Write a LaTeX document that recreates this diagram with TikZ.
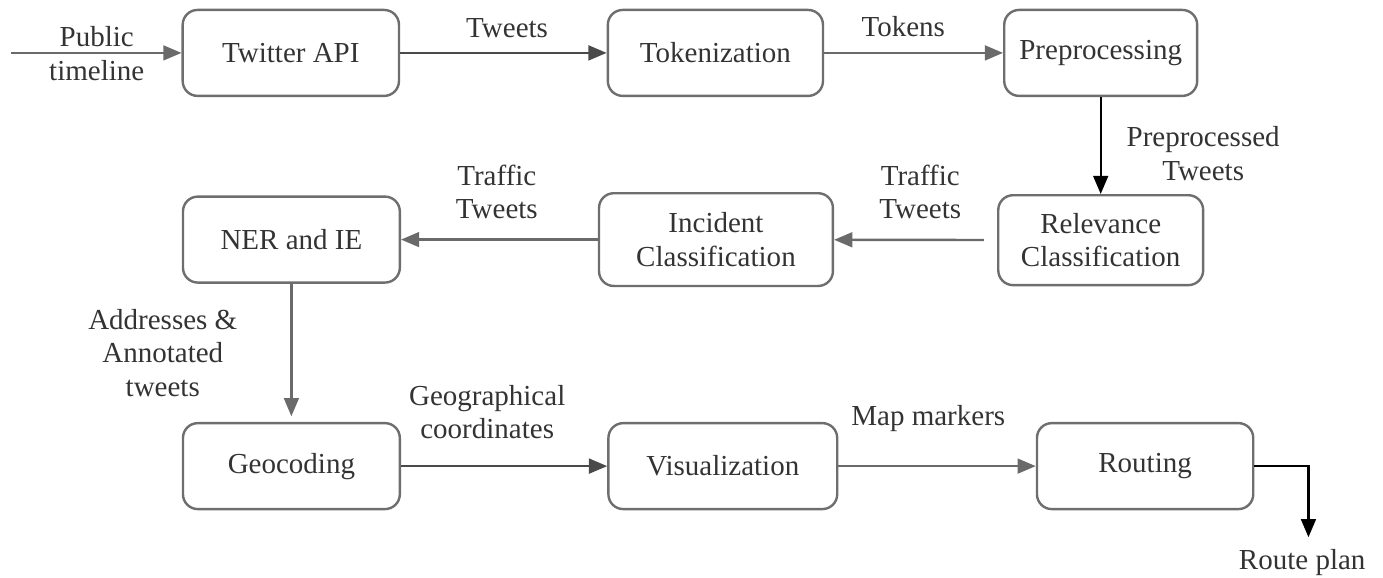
\documentclass[tikz,border=0pt]{standalone}
\usepackage{fontspec}
\setmainfont{Liberation Serif}
\newfontfamily\diagfont{Liberation Serif}
\usetikzlibrary{positioning, arrows.meta}
\definecolor{boxgray}{HTML}{6E6E6E}
\definecolor{linegray}{HTML}{6A6A6A}
\definecolor{darkline}{HTML}{4A4A4A}
\definecolor{textgray}{HTML}{333333}

\begin{document}
\begin{tikzpicture}[
    font=\diagfont\fontsize{14.5}{16.8}\selectfont,
    box/.style={draw=boxgray, line width=1.2pt, rounded corners=0.26cm,
                minimum height=1.51cm, align=center, text=textgray},
    lbl/.style={align=center, text=textgray, inner sep=0pt},
    arrow/.style={-{Triangle[length=3.2mm, width=2.6mm]}, line width=1.2pt, draw=linegray},
    darkarrow/.style={arrow, draw=darkline},
    blackarrow/.style={arrow, draw=black}
]
\useasboundingbox (0,0) rectangle (24.30,10.14);

% top row
\node[box, minimum width=3.80cm] (twitter) at (5.11,9.21)  {Twitter API};
\node[box, minimum width=3.78cm] (token)   at (12.57,9.21) {Tokenization};
\node[box, minimum width=3.39cm] (prep)    at (19.34,9.21) {Preprocessing};

% middle row
\node[box, minimum width=3.60cm, minimum height=1.58cm] (relev) at (19.34,5.92) {Relevance\\Classification};
\node[box, minimum width=4.11cm, minimum height=1.63cm] (incid) at (12.58,5.93) {Incident\\Classification};
\node[box, minimum width=3.81cm] (ner) at (5.12,5.93) {NER and IE};

% bottom row
\node[box, minimum width=3.81cm] (geo)    at (5.12,1.95)  {Geocoding};
\node[box, minimum width=4.02cm] (visual) at (12.70,1.95) {Visualization};
\node[box, minimum width=3.80cm] (route)  at (20.12,1.95) {Routing};

\coordinate (start) at (0.19,9.21);
\coordinate (plan)  at (22.99,0.70);

% labels
\node[lbl] (l-public) at (1.70,9.20)  {Public\\timeline};
\node[lbl] (l-tweets) at (8.91,9.65)  {Tweets};
\node[lbl] (l-tokens) at (15.87,9.67) {Tokens};
\node[lbl] (l-prep)   at (21.14,7.44) {Preprocessed\\Tweets};
\node[lbl] (l-traf1)  at (16.17,6.77) {Traffic\\Tweets};
\node[lbl] (l-traf2)  at (8.73,6.77)  {Traffic\\Tweets};
\node[lbl] (l-addr)   at (2.86,3.94)  {Addresses \&\\Annotated\\tweets};
\node[lbl] (l-geo)    at (8.56,2.90)  {Geographical\\coordinates};
\node[lbl] (l-map)    at (16.31,2.79) {Map markers};
\node[lbl] (l-plan)   at (22.88,0.25) {Route plan};

% connectors
\draw[arrow]      (start) -- (twitter);
\draw[darkarrow]  (twitter) -- (token);
\draw[arrow]      (token) -- (prep);
\draw[blackarrow] (prep) -- (relev);
\draw[arrow, shorten <=0.23cm] (relev) -- (incid);
\draw[arrow]      (incid) -- (ner);
\draw[arrow, shorten >=0.1cm] (ner) -- (geo);
\draw[darkarrow]  (geo) -- (visual);
\draw[arrow]      (visual) -- (route);
\draw[blackarrow] (route.east) -| (plan);
\end{tikzpicture}
\end{document}
